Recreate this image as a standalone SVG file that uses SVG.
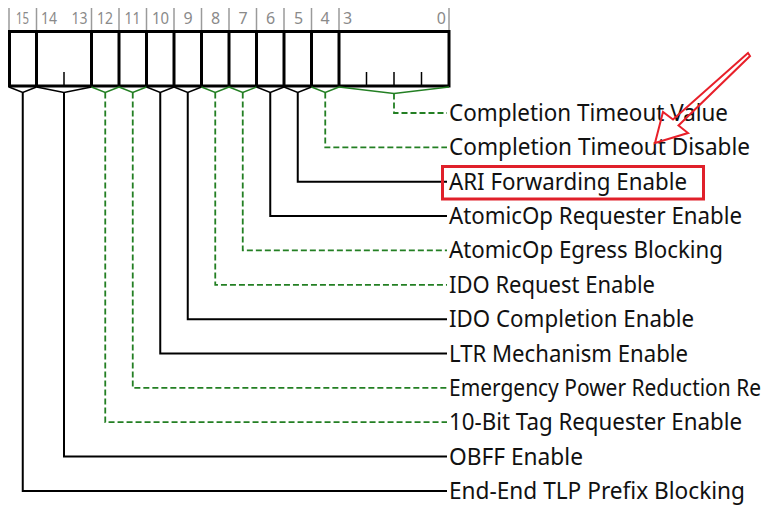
<svg xmlns="http://www.w3.org/2000/svg" width="772" height="509" viewBox="0 0 772 509">
<style>
.bitnum{font-family:"Noto Sans","DejaVu Sans",sans-serif;font-size:16px;fill:#8a8a8a}
.sep{stroke:#9a9a9a;stroke-width:1.5;fill:none}
.reg{stroke:#000;stroke-width:3;fill:#fff}
.div{stroke:#000;stroke-width:3;fill:none}
.tick{stroke:#000;stroke-width:1.5;fill:none}
.lbl{font-family:"Noto Sans","DejaVu Sans",sans-serif;font-size:23px;fill:#111}
.cb{stroke:#000;stroke-width:2;fill:none}
.bb{stroke:#000;stroke-width:1.5;fill:none}
.cg{stroke:#237f23;stroke-width:1.8;fill:none;stroke-dasharray:6 3}
.bg{stroke:#237f23;stroke-width:1.5;fill:none}
</style>
<rect width="772" height="509" fill="#fff"/>
<g id="register">
  <g id="bit-numbers">
    <path class="sep" d="M9,8V31M36.5,8V31M91.5,8V31M119,8V31M146.5,8V31M174,8V31M201.5,8V31M229,8V31M256.5,8V31M284,8V31M311.5,8V31M339,8V31M449,8V31"/>
    <text class="bitnum" x="22.5" y="24" text-anchor="middle" textLength="13" lengthAdjust="spacingAndGlyphs">15</text>
    <text class="bitnum" x="49" y="24" text-anchor="middle" textLength="16" lengthAdjust="spacingAndGlyphs">14</text>
    <text class="bitnum" x="79.5" y="24" text-anchor="middle" textLength="16" lengthAdjust="spacingAndGlyphs">13</text>
    <text class="bitnum" x="105" y="24" text-anchor="middle" textLength="16" lengthAdjust="spacingAndGlyphs">12</text>
    <text class="bitnum" x="132.5" y="24" text-anchor="middle" textLength="16" lengthAdjust="spacingAndGlyphs">11</text>
    <text class="bitnum" x="160.5" y="24" text-anchor="middle" textLength="17" lengthAdjust="spacingAndGlyphs">10</text>
    <text class="bitnum" x="188" y="24" text-anchor="middle">9</text>
    <text class="bitnum" x="215.5" y="24" text-anchor="middle">8</text>
    <text class="bitnum" x="243" y="24" text-anchor="middle">7</text>
    <text class="bitnum" x="270.5" y="24" text-anchor="middle">6</text>
    <text class="bitnum" x="298.5" y="24" text-anchor="middle">5</text>
    <text class="bitnum" x="325" y="24" text-anchor="middle">4</text>
    <text class="bitnum" x="343" y="24">3</text>
    <text class="bitnum" x="446" y="24" text-anchor="end">0</text>
  </g>
  <rect class="reg" x="9.5" y="31.5" width="439.5" height="54.5"/>
  <path class="div" d="M36.5,31.5V86M91.5,31.5V86M119,31.5V86M146.5,31.5V86M174,31.5V86M201.5,31.5V86M229,31.5V86M256.5,31.5V86M284,31.5V86M311.5,31.5V86M339,31.5V86"/>
  <path class="tick" d="M64,72V86M366.5,72V86M394,72V86M421.5,72V86"/>
</g>
<g id="connectors">
  <path class="bb" d="M9,87L22.75,92.5L36.5,87"/>
  <path class="cb" d="M22.75,92.5V491H447"/>
  <path class="bb" d="M36.5,87L64,92.5L91.5,87"/>
  <path class="cb" d="M64,92.5V456.6H447"/>
  <path class="bg" d="M91.5,87L105.25,92.5L119,87"/>
  <path class="cg" d="M105.25,92.5V422.2H447"/>
  <path class="bg" d="M119,87L132.75,92.5L146.5,87"/>
  <path class="cg" d="M132.75,92.5V387.9H447"/>
  <path class="bb" d="M146.5,87L160.25,92.5L174,87"/>
  <path class="cb" d="M160.25,92.5V353.5H447"/>
  <path class="bb" d="M174,87L187.75,92.5L201.5,87"/>
  <path class="cb" d="M187.75,92.5V319.2H447"/>
  <path class="bg" d="M201.5,87L215.25,92.5L229,87"/>
  <path class="cg" d="M215.25,92.5V284.8H447"/>
  <path class="bg" d="M229,87L242.75,92.5L256.5,87"/>
  <path class="cg" d="M242.75,92.5V250.4H447"/>
  <path class="bb" d="M256.5,87L270.25,92.5L284,87"/>
  <path class="cb" d="M270.25,92.5V216.1H447"/>
  <path class="bb" d="M284,87L297.75,92.5L311.5,87"/>
  <path class="cb" d="M297.75,92.5V181.7H447"/>
  <path class="bg" d="M311.5,87L325.25,92.5L339,87"/>
  <path class="cg" d="M325.25,92.5V147.4H447"/>
  <path class="bg" d="M339,87L394,93.5L449,87"/>
  <path class="cg" d="M394,93.5V113H447"/>
</g>
<g id="labels">
  <g id="f-3-0"><text class="lbl" x="449" y="121" textLength="279" lengthAdjust="spacingAndGlyphs">Completion Timeout Value</text></g>
  <g id="f-4"><text class="lbl" x="449" y="155.4" textLength="301" lengthAdjust="spacingAndGlyphs">Completion Timeout Disable</text></g>
  <g id="f-5"><text class="lbl" x="449" y="189.7" textLength="238" lengthAdjust="spacingAndGlyphs">ARI Forwarding Enable</text></g>
  <g id="f-6"><text class="lbl" x="449" y="224.1" textLength="293" lengthAdjust="spacingAndGlyphs">AtomicOp Requester Enable</text></g>
  <g id="f-7"><text class="lbl" x="449" y="258.4" textLength="274" lengthAdjust="spacingAndGlyphs">AtomicOp Egress Blocking</text></g>
  <g id="f-8"><text class="lbl" x="449" y="292.8" textLength="206" lengthAdjust="spacingAndGlyphs">IDO Request Enable</text></g>
  <g id="f-9"><text class="lbl" x="449" y="327.2" textLength="245" lengthAdjust="spacingAndGlyphs">IDO Completion Enable</text></g>
  <g id="f-10"><text class="lbl" x="449" y="361.5" textLength="239" lengthAdjust="spacingAndGlyphs">LTR Mechanism Enable</text></g>
  <g id="f-11"><text class="lbl" x="449" y="395.9" textLength="312" lengthAdjust="spacingAndGlyphs">Emergency Power Reduction Re</text></g>
  <g id="f-12"><text class="lbl" x="449" y="430.2" textLength="293" lengthAdjust="spacingAndGlyphs">10-Bit Tag Requester Enable</text></g>
  <g id="f-14-13"><text class="lbl" x="449" y="464.6" textLength="134" lengthAdjust="spacingAndGlyphs">OBFF Enable</text></g>
  <g id="f-15"><text class="lbl" x="449" y="499" textLength="296" lengthAdjust="spacingAndGlyphs">End-End TLP Prefix Blocking</text></g>
</g>
<g id="highlight">
  <rect x="442.5" y="166.5" width="261" height="32.5" fill="none" stroke="#e0202a" stroke-width="3"/>
  <path d="M748,53L673,119.5L663,112L655,143L688,133L678.5,125.5L750,56Z" fill="none" stroke="#e8202a" stroke-width="2" stroke-linejoin="miter"/>
</g>
</svg>
